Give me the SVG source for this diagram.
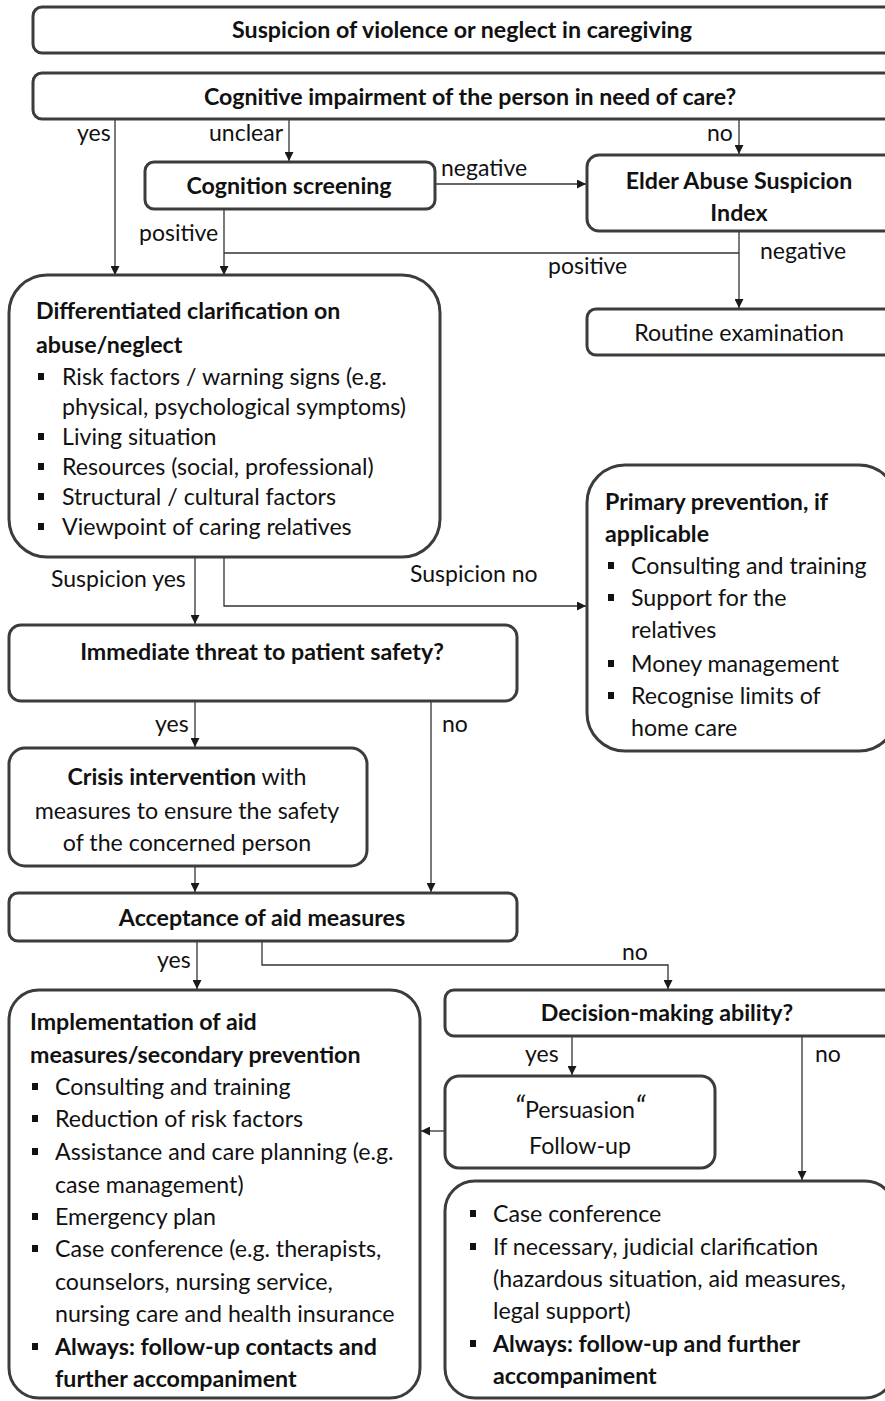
<svg xmlns="http://www.w3.org/2000/svg" width="885" height="1401" viewBox="0 0 885 1401">
  <defs>
    <marker id="arrow" markerWidth="9" markerHeight="9" refX="9" refY="4.5" orient="auto" markerUnits="userSpaceOnUse">
      <path d="M0,0 L9,4.5 L0,9 z" fill="#1a1a1a"/>
    </marker>
    <style>
      .box { fill: #ffffff; stroke: #3c3c3c; stroke-width: 3; }
      .wire { fill: none; stroke: #333333; stroke-width: 1.3; }
      text { font-family: Lato, "Open Sans", "DejaVu Sans", sans-serif; font-size: 23.2px; fill: #111111; }
      .b { font-weight: bold; }
      .c { text-anchor: middle; }
      .lbl { font-size: 23px; }
      .q { font-size: 30px; font-style: italic; }
      .dot { fill: #111111; }
    </style>
  </defs>
  <rect width="885" height="1401" fill="#ffffff"/>

  <!-- connectors -->
  <g id="connectors">
    <line class="wire" x1="115" y1="119" x2="115" y2="275" marker-end="url(#arrow)"/>
    <line class="wire" x1="289" y1="119" x2="289" y2="161" marker-end="url(#arrow)"/>
    <line class="wire" x1="739" y1="119" x2="739" y2="154" marker-end="url(#arrow)"/>
    <line class="wire" x1="435" y1="184" x2="586" y2="184" marker-end="url(#arrow)"/>
    <line class="wire" x1="224" y1="209" x2="224" y2="275" marker-end="url(#arrow)"/>
    <line class="wire" x1="739" y1="231" x2="739" y2="308" marker-end="url(#arrow)"/>
    <line class="wire" x1="739" y1="253" x2="224" y2="253"/>
    <line class="wire" x1="195" y1="557" x2="195" y2="624" marker-end="url(#arrow)"/>
    <path class="wire" d="M224,557 V606 H586" marker-end="url(#arrow)"/>
    <line class="wire" x1="195" y1="701" x2="195" y2="747" marker-end="url(#arrow)"/>
    <line class="wire" x1="431" y1="701" x2="431" y2="892" marker-end="url(#arrow)"/>
    <line class="wire" x1="195" y1="866" x2="195" y2="892" marker-end="url(#arrow)"/>
    <line class="wire" x1="197" y1="941" x2="197" y2="989" marker-end="url(#arrow)"/>
    <path class="wire" d="M262,941 V965 H668 V989" marker-end="url(#arrow)"/>
    <line class="wire" x1="572" y1="1036" x2="572" y2="1075" marker-end="url(#arrow)"/>
    <line class="wire" x1="802" y1="1036" x2="802" y2="1180" marker-end="url(#arrow)"/>
    <line class="wire" x1="445" y1="1131" x2="421" y2="1131" marker-end="url(#arrow)"/>
  </g>

  <!-- connector labels -->
  <g id="labels">
    <text class="lbl" x="77" y="141">yes</text>
    <text class="lbl" x="209" y="141">unclear</text>
    <text class="lbl" x="707" y="141">no</text>
    <text class="lbl" x="441" y="176">negative</text>
    <text class="lbl" x="139" y="241">positive</text>
    <text class="lbl" x="760" y="259">negative</text>
    <text class="lbl" x="548" y="274">positive</text>
    <text class="lbl" x="51" y="587">Suspicion yes</text>
    <text class="lbl" x="410" y="582">Suspicion no</text>
    <text class="lbl" x="155" y="732">yes</text>
    <text class="lbl" x="442" y="732">no</text>
    <text class="lbl" x="157" y="968">yes</text>
    <text class="lbl" x="622" y="960">no</text>
    <text class="lbl" x="525" y="1062">yes</text>
    <text class="lbl" x="815" y="1062">no</text>
  </g>

  <g id="start">
    <rect class="box" x="33" y="7" width="870" height="46" rx="9"/>
    <text class="b c" x="462" y="38">Suspicion of violence or neglect in caregiving</text>
  </g>

  <g id="cognitive-impairment">
    <rect class="box" x="33" y="73" width="870" height="46" rx="9"/>
    <text class="b c" x="470" y="105">Cognitive impairment of the person in need of care?</text>
  </g>

  <g id="cognition-screening">
    <rect class="box" x="145" y="162" width="290" height="47" rx="9"/>
    <text class="b c" x="289" y="194">Cognition screening</text>
  </g>

  <g id="easi">
    <rect class="box" x="587" y="155" width="310" height="76" rx="12"/>
    <text class="b c" x="739" y="189">Elder Abuse Suspicion</text>
    <text class="b c" x="739" y="221">Index</text>
  </g>

  <g id="routine">
    <rect class="box" x="587" y="309" width="310" height="46" rx="9"/>
    <text class="c" x="739" y="341">Routine examination</text>
  </g>

  <g id="clarification">
    <rect class="box" x="9" y="275" width="431" height="282" rx="38"/>
    <text class="b" x="36" y="319">Differentiated clarification on</text>
    <text class="b" x="36" y="353">abuse/neglect</text>
    <rect class="dot" x="38" y="373" width="6" height="7"/>
    <text x="62" y="385">Risk factors / warning signs (e.g.</text>
    <text x="62" y="415">physical, psychological symptoms)</text>
    <rect class="dot" x="38" y="433" width="6" height="7"/>
    <text x="62" y="445">Living situation</text>
    <rect class="dot" x="38" y="463" width="6" height="7"/>
    <text x="62" y="475">Resources (social, professional)</text>
    <rect class="dot" x="38" y="493" width="6" height="7"/>
    <text x="62" y="505">Structural / cultural factors</text>
    <rect class="dot" x="38" y="523" width="6" height="7"/>
    <text x="62" y="535">Viewpoint of caring relatives</text>
  </g>

  <g id="primary-prevention">
    <rect class="box" x="587" y="465" width="310" height="286" rx="38"/>
    <text class="b" x="605" y="510">Primary prevention, if</text>
    <text class="b" x="605" y="542">applicable</text>
    <rect class="dot" x="608" y="562" width="6" height="7"/>
    <text x="631" y="574">Consulting and training</text>
    <rect class="dot" x="608" y="594" width="6" height="7"/>
    <text x="631" y="606">Support for the</text>
    <text x="631" y="638">relatives</text>
    <rect class="dot" x="608" y="660" width="6" height="7"/>
    <text x="631" y="672">Money management</text>
    <rect class="dot" x="608" y="692" width="6" height="7"/>
    <text x="631" y="704">Recognise limits of</text>
    <text x="631" y="736">home care</text>
  </g>

  <g id="immediate-threat">
    <rect class="box" x="9" y="625" width="508" height="76" rx="12"/>
    <text class="b c" x="262" y="660">Immediate threat to patient safety?</text>
  </g>

  <g id="crisis-intervention">
    <rect class="box" x="9" y="748" width="358" height="118" rx="16"/>
    <text class="c" x="187" y="785"><tspan class="b">Crisis intervention</tspan> with</text>
    <text class="c" x="187" y="819">measures to ensure the safety</text>
    <text class="c" x="187" y="851">of the concerned person</text>
  </g>

  <g id="acceptance">
    <rect class="box" x="9" y="893" width="508" height="48" rx="9"/>
    <text class="b c" x="262" y="926">Acceptance of aid measures</text>
  </g>

  <g id="decision-making">
    <rect class="box" x="445" y="990" width="450" height="46" rx="9"/>
    <text class="b c" x="667" y="1021">Decision-making ability?</text>
  </g>

  <g id="implementation">
    <rect class="box" x="9" y="990" width="411" height="408" rx="30"/>
    <text class="b" x="30" y="1030">Implementation of aid</text>
    <text class="b" x="30" y="1063">measures/secondary prevention</text>
    <rect class="dot" x="32" y="1083" width="6" height="7"/>
    <text x="55" y="1095">Consulting and training</text>
    <rect class="dot" x="32" y="1115" width="6" height="7"/>
    <text x="55" y="1127">Reduction of risk factors</text>
    <rect class="dot" x="32" y="1148" width="6" height="7"/>
    <text x="55" y="1160">Assistance and care planning (e.g.</text>
    <text x="55" y="1193">case management)</text>
    <rect class="dot" x="32" y="1213" width="6" height="7"/>
    <text x="55" y="1225">Emergency plan</text>
    <rect class="dot" x="32" y="1245" width="6" height="7"/>
    <text x="55" y="1257">Case conference (e.g. therapists,</text>
    <text x="55" y="1290">counselors, nursing service,</text>
    <text x="55" y="1322">nursing care and health insurance</text>
    <rect class="dot" x="32" y="1343" width="6" height="7"/>
    <text class="b" x="55" y="1355">Always: follow-up contacts and</text>
    <text class="b" x="55" y="1387">further accompaniment</text>
  </g>

  <g id="persuasion">
    <rect class="box" x="445" y="1076" width="270" height="92" rx="14"/>
    <text class="c" x="580" y="1118"><tspan class="q">“</tspan>Persuasion<tspan class="q">“</tspan></text>
    <text class="c" x="580" y="1154">Follow-up</text>
  </g>

  <g id="case-conference">
    <rect class="box" x="445" y="1181" width="450" height="217" rx="30"/>
    <rect class="dot" x="470" y="1210" width="6" height="7"/>
    <text x="493" y="1222">Case conference</text>
    <rect class="dot" x="470" y="1243" width="6" height="7"/>
    <text x="493" y="1255">If necessary, judicial clarification</text>
    <text x="493" y="1287">(hazardous situation, aid measures,</text>
    <text x="493" y="1319">legal support)</text>
    <rect class="dot" x="470" y="1340" width="6" height="7"/>
    <text class="b" x="493" y="1352">Always: follow-up and further</text>
    <text class="b" x="493" y="1384">accompaniment</text>
  </g>
</svg>
